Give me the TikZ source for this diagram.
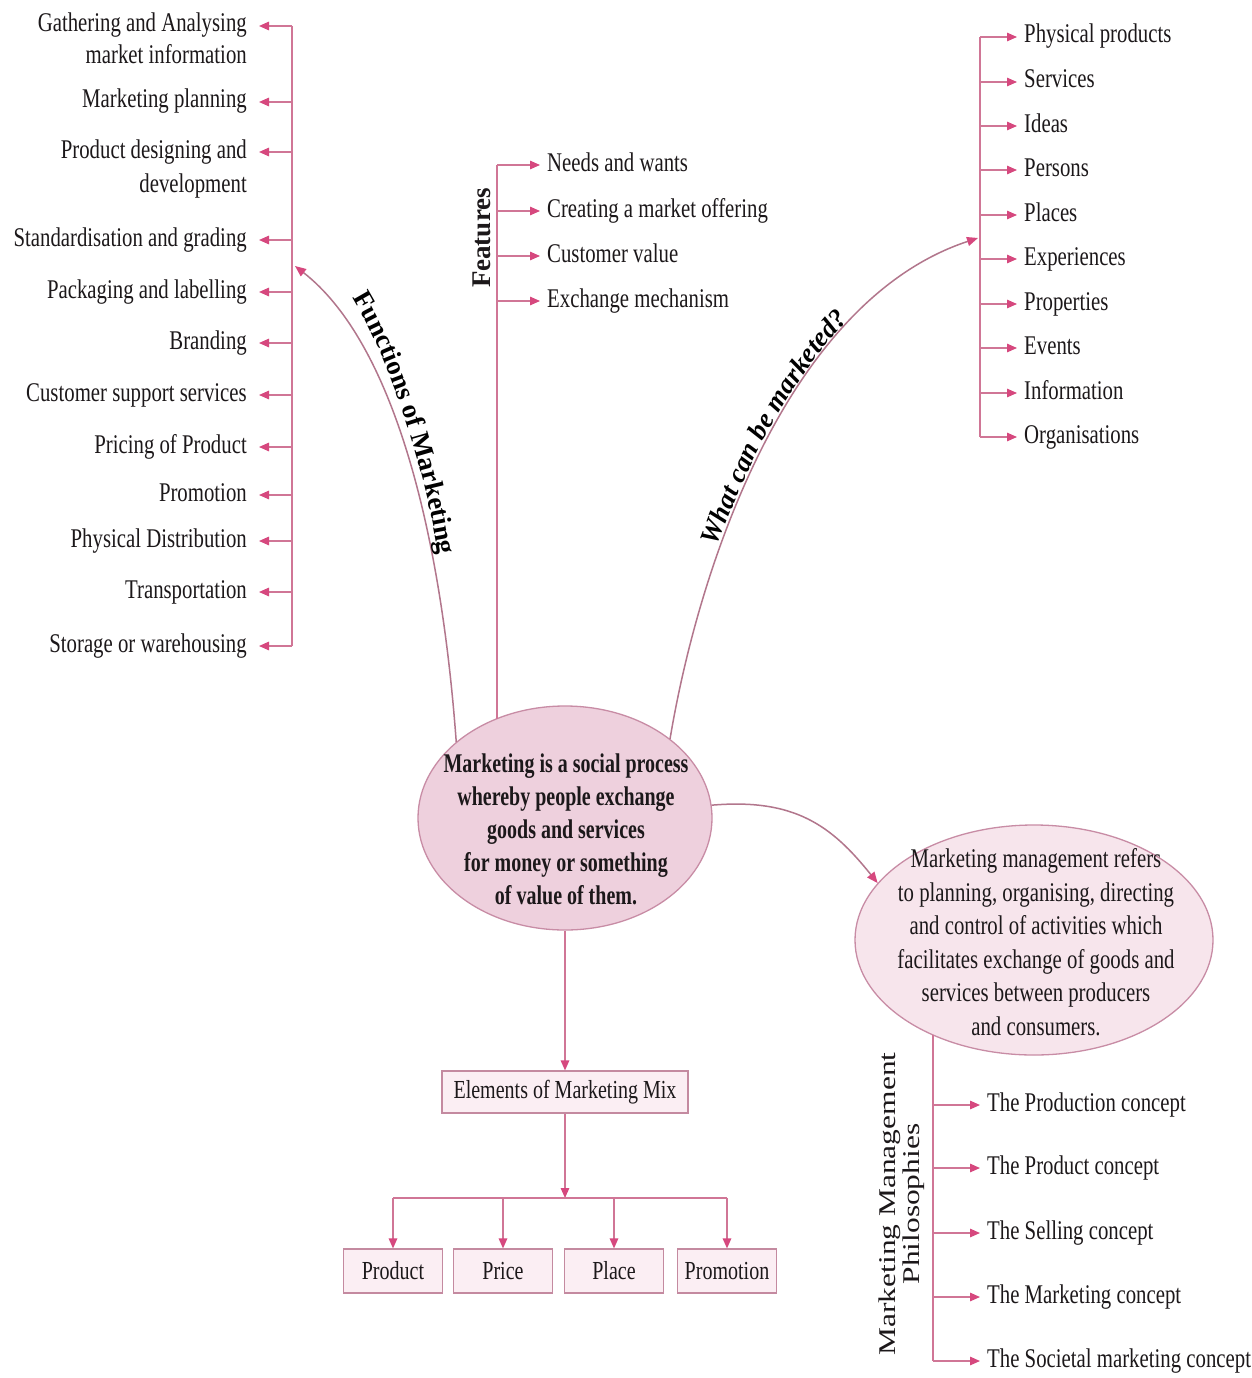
\documentclass[tikz,border=0pt]{standalone}
\usepackage{fontspec}
\setmainfont{Liberation Serif}[FakeStretch=0.77]
\newfontfamily\boldcond{Liberation Serif}[FakeStretch=0.74]
\newfontfamily\plainserif{Liberation Serif}
\newfontfamily\wideserif{Liberation Serif}[FakeStretch=1.31]
\usetikzlibrary{arrows.meta,shapes.geometric,decorations.text}

\definecolor{linepink}{RGB}{208,118,150}
\definecolor{tippink}{RGB}{214,72,126}
\definecolor{curvecol}{RGB}{178,118,140}
\definecolor{ellfill}{RGB}{238,208,221}
\definecolor{ellfillb}{RGB}{247,229,236}
\definecolor{ellline}{RGB}{200,140,165}
\definecolor{boxfill}{RGB}{251,238,243}
\definecolor{boxline}{RGB}{196,138,160}
\definecolor{ink}{RGB}{28,24,26}

\begin{document}
\begin{tikzpicture}[x=1pt,y=-1pt, every node/.style={text=ink},
  spine/.style={draw=linepink, line width=1.4pt},
  branch/.style={spine, -{Triangle[length=10pt,width=8.5pt,color=tippink]}},
  bendarrow/.style={draw=curvecol, line width=1.5pt, -{Triangle[length=11pt,width=9pt,color=tippink]}},
  item/.style={inner sep=0pt, font=\fontsize{27}{34}\selectfont, text height=18pt, text depth=6pt},
  leftitem/.style={item, anchor=east},
  rightitem/.style={item, anchor=west},
  mixbox/.style={draw=boxline, fill=boxfill, line width=1.2pt, inner sep=0pt, font=\fontsize{26}{30}\selectfont},
  bubble/.style={ellipse, draw=ellline, line width=1.3pt, inner sep=0pt},
  sidelabel/.style={inner sep=0pt, rotate=90}
]

\fill[white] (0,0) rectangle (1251,1378);
\useasboundingbox (0,0) rectangle (1251,1378);

% ---------- the two ellipses ----------
\node[bubble, fill=ellfill, minimum width=294pt, minimum height=224pt] (core) at (565,818) {};
\node[inner sep=0pt, align=center, font=\boldcond\bfseries\fontsize{27}{33}\selectfont] (coretext) at (566,829)
  {Marketing is a social process\\whereby people exchange\\goods and services\\for money or something\\of value of them.};

\node[bubble, fill=ellfillb, minimum width=358pt, minimum height=230pt] (mgmt) at (1034,940) {};
\node[inner sep=0pt, align=center, font=\fontsize{27}{33.5}\selectfont] (mgmttext) at (1036,942)
  {Marketing management refers\\to planning, organising, directing\\and control of activities which\\facilitates exchange of goods and\\services between producers\\and consumers.};

% ---------- functions of marketing (left list) ----------
\coordinate (fntop) at (292,26);
\coordinate (fnbot) at (292,646);
\draw[spine] (fntop) -- (fnbot);
\foreach \n/\y/\t in {1/26/Gathering and Analysing, 2/102/Marketing planning, 3/152/Product designing and,
  4/240/Standardisation and grading, 5/292/Packaging and labelling, 6/343/Branding,
  7/395/Customer support services, 8/447/Pricing of Product, 9/495/Promotion,
  10/541/Physical Distribution, 11/592/Transportation, 12/646/Storage or warehousing}{
  \node[leftitem] (fn\n) at (247,\y) {\t};
  \draw[branch] (fntop |- fn\n.east) -- ([xshift=12pt]fn\n.east);
}
\node[leftitem] (fn1b) at (247,58) {market information};
\node[leftitem] (fn3b) at (247,186) {development};

\coordinate (fntarget) at (295,266);
\draw[bendarrow] (core.145) .. controls (440,520) and (390,340) .. (fntarget);
\path[decorate, decoration={text along path, text align=center,
  text={|\plainserif\bfseries\fontsize{27}{30}\selectfont|Functions of Marketing}}]
  (343,283) .. controls (383,340) and (426,460) .. (441,572);

% ---------- features ----------
\coordinate (fttop) at (497,165);
\coordinate (ftbot) at (497,719);
\draw[spine] (fttop) -- (ftbot);
\foreach \n/\y/\t in {1/165/Needs and wants, 2/211/Creating a market offering, 3/256/Customer value, 4/301/Exchange mechanism}{
  \node[rightitem] (ft\n) at (547,\y) {\t};
  \draw[branch] (fttop |- ft\n.west) -- ([xshift=-7pt]ft\n.west);
}
\node[sidelabel, font=\plainserif\bfseries\fontsize{27}{30}\selectfont] (ftlabel) at (482,238) {Features};

% ---------- what can be marketed (right list) ----------
\coordinate (wmtop) at (980,37);
\coordinate (wmbot) at (980,437);
\draw[spine] (wmtop) -- (wmbot);
\foreach \n/\y/\t in {1/37/Physical products, 2/82/Services, 3/126/Ideas, 4/170/Persons, 5/215/Places,
  6/259/Experiences, 7/304/Properties, 8/348/Events, 9/393/Information, 10/437/Organisations}{
  \node[rightitem] (wm\n) at (1024,\y) {\t};
  \draw[branch] (wmtop |- wm\n.west) -- ([xshift=-7pt]wm\n.west);
}
\coordinate (wmtarget) at (978,238);
\draw[bendarrow] (core.37) .. controls (700,560) and (790,300) .. (wmtarget);
\path[decorate, decoration={text along path, text align={center, left indent=44pt}, raise=3pt,
  text={|\plainserif\bfseries\itshape\fontsize{27}{30}\selectfont|What can be marketed?}}]
  (core.37) .. controls (700,560) and (790,300) .. (wmtarget);

% ---------- marketing management ----------
\draw[bendarrow] (core.5) .. controls (795,798) and (832,826) .. (mgmt.160);

\coordinate (phtop) at (933,1035);
\coordinate (phbot) at (933,1361);
\draw[spine] (phtop) -- (phbot);
\foreach \n/\y/\t in {1/1105/The Production concept, 2/1168/The Product concept, 3/1233/The Selling concept,
  4/1297/The Marketing concept, 5/1361/The Societal marketing concept}{
  \node[rightitem] (ph\n) at (987,\y) {\t};
  \draw[branch] (phtop |- ph\n.west) -- ([xshift=-7pt]ph\n.west);
}
\node[sidelabel, align=center, font=\wideserif\fontsize{24}{24}\selectfont] (phlabel) at (902,1204)
  {Marketing Management\\Philosophies};

% ---------- marketing mix ----------
\node[mixbox, minimum width=246pt, minimum height=42pt] (mix) at (565,1092) {Elements of Marketing Mix};
\draw[branch] (core.south) -- (mix.north);
\coordinate (mixjoin) at (565,1198);
\draw[branch] (mix.south) -- (mixjoin);
\foreach \n/\x/\t in {1/393/Product, 2/503/Price, 3/614/Place, 4/727/Promotion}{
  \node[mixbox, minimum width=99pt, minimum height=44pt] (el\n) at (\x,1271) {\t};
  \draw[branch] (el\n.north |- mixjoin) -- (el\n.north);
}
\draw[spine] (el1.north |- mixjoin) -- (el4.north |- mixjoin);

\end{tikzpicture}
\end{document}
